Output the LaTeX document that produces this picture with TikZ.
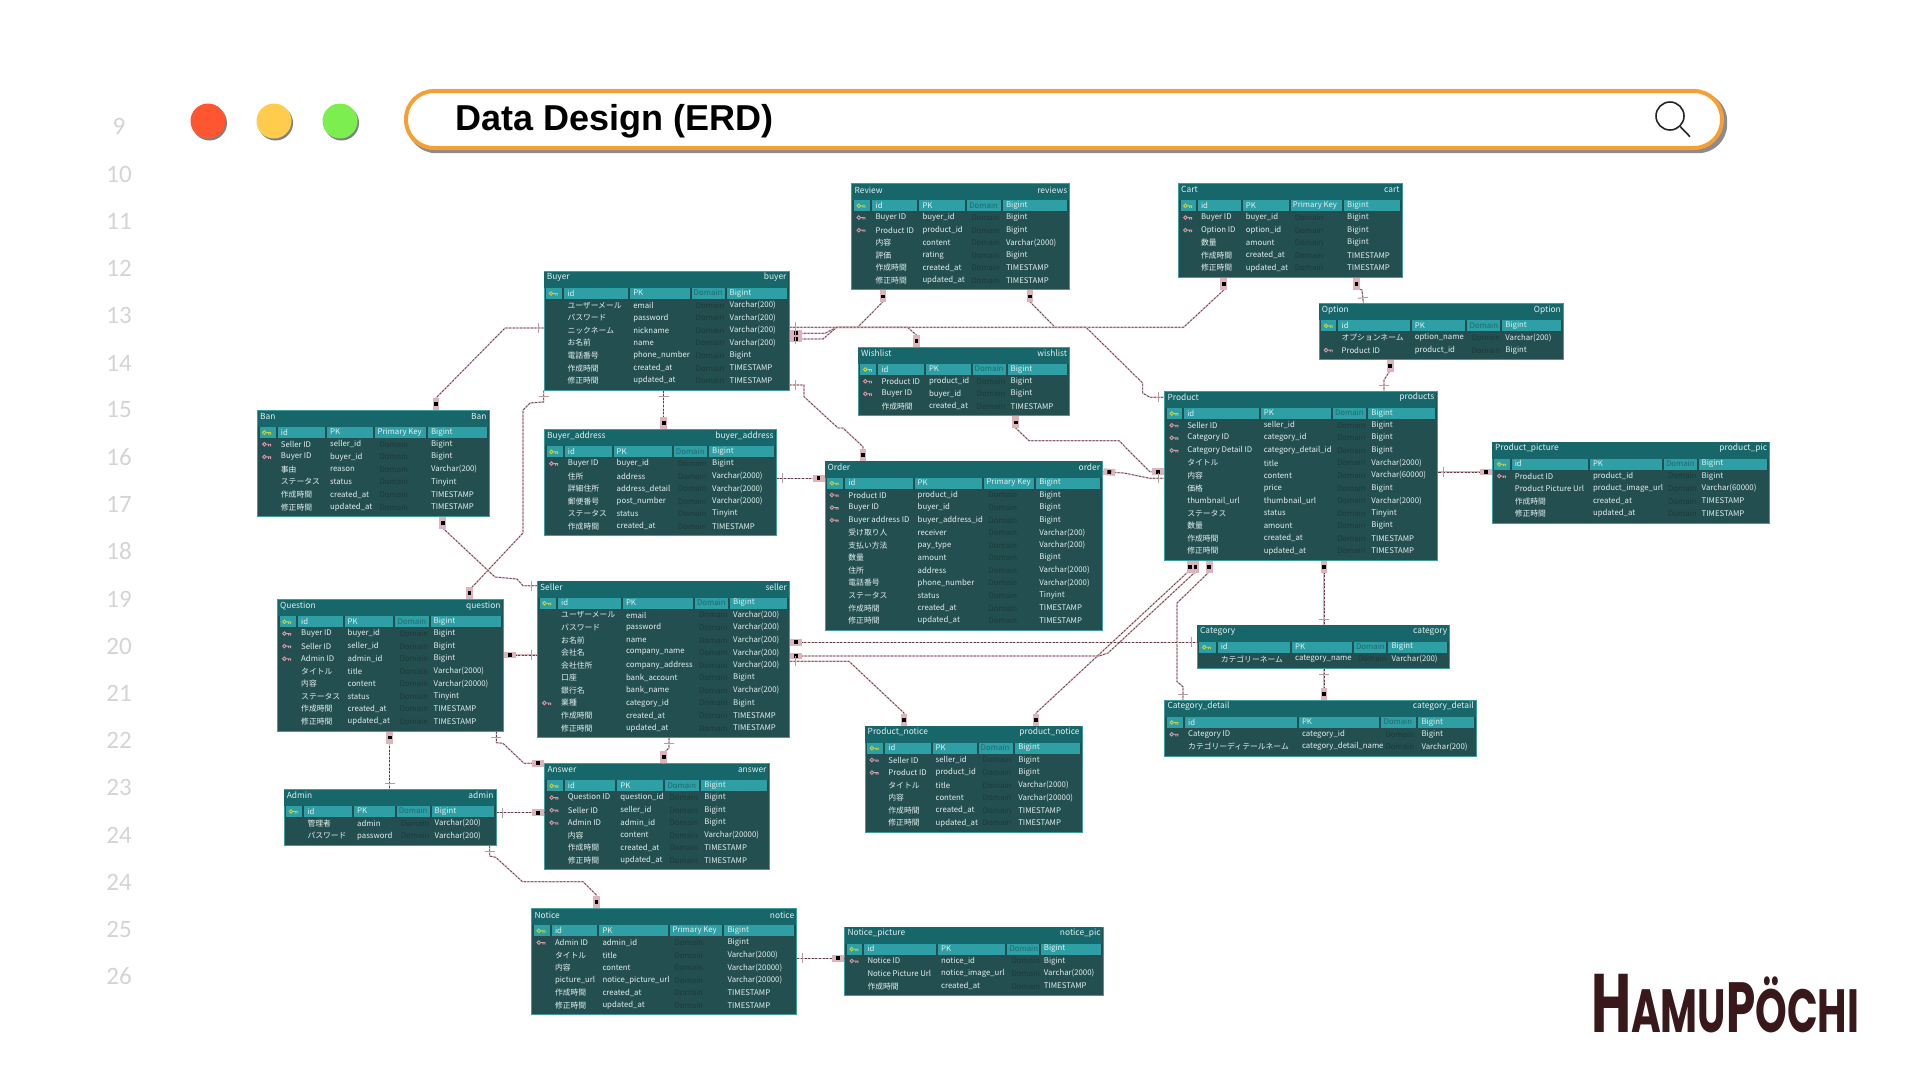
\documentclass[tikz,border=0pt]{standalone}
\usepackage{fontspec}
\setmainfont{Noto Sans CJK JP}
\newfontfamily\titlefont{Liberation Sans}
\newfontfamily\numfont{Carlito}
\newfontfamily\logofont{Poppins}
\usetikzlibrary{decorations.markings}

\definecolor{erdbody}{HTML}{244F50}
\definecolor{erdtop}{HTML}{176669}
\definecolor{erdcell}{HTML}{2EA0A5}
\definecolor{erdedge}{HTML}{3F9C9C}
\definecolor{erdtext}{HTML}{E4F0F0}
\definecolor{erddom}{HTML}{1B3A3A}
\definecolor{erdhdom}{HTML}{1E6A6E}
\definecolor{erdpk}{HTML}{C6D23F}
\definecolor{erdfk}{HTML}{D89AA6}
\definecolor{relpink}{HTML}{DDB4BC}
\definecolor{reldark}{HTML}{5A4045}
\definecolor{barorange}{HTML}{F59F35}
\definecolor{logobrown}{HTML}{38181A}

\tikzset{
  erdbox/.style={draw=erdedge, line width=1pt, fill=erdbody, inner sep=0pt, anchor=north west},
  erdhead/.style={text=erdtext, inner sep=0pt, font=\fontsize{8.4}{9}\selectfont},
  erdrow/.style={text=erdtext, inner sep=0pt, anchor=west, font=\fontsize{7.8}{8}\selectfont},
  keyicon/.pic={
    \draw[#1, line width=.9pt] (-2.6,0) circle (1.8) (-.8,0) -- (4,0) (1.6,0) -- (1.6,2) (3.6,0) -- (3.6,2);
  },
  rel/.style={draw=relpink, line width=1.4pt, postaction={draw=reldark, line width=.7pt, dash pattern=on 2pt off 1.6pt}},
  onestart/.style={postaction={decorate, decoration={markings, mark=at position 5.5pt with {\draw[relpink!85!black, line width=1pt, solid] (0,-5pt) -- (0,5pt);}}}},
  oneend/.style={postaction={decorate, decoration={markings, mark=at position -5.5pt with {\draw[relpink!85!black, line width=1pt, solid] (0,-5pt) -- (0,5pt);}}}},
  manystart/.style={postaction={decorate, decoration={markings, mark=at position 6pt with {\fill[relpink] (-6pt,-3.4pt) rectangle (6pt,3.4pt); \fill[black] (-1.9pt,-1.9pt) rectangle (1.9pt,1.9pt);}}}},
  manyend/.style={postaction={decorate, decoration={markings, mark=at position -6pt with {\fill[relpink] (-6pt,-3.4pt) rectangle (6pt,3.4pt); \fill[black] (-1.9pt,-1.9pt) rectangle (1.9pt,1.9pt);}}}},
  lineno/.style={text=black!17, font=\numfont\fontsize{25}{26}\selectfont},
}

\newcommand{\dm}{\textcolor{erdhdom}{Domain}}
\def\tabgeom#1/#2/#3/#4/#5/#6/#7/#8\relax{\def\tabx{#1}\def\taby{#2}\def\tabw{#3}\def\tabn{#4}\def\cola{#5}\def\colb{#6}\def\colc{#7}\def\cold{#8}}
% name, x/y/width/rows/four column offsets, title, table name, key header, rows
\newcommand{\erdtable}[6]{
  \tabgeom#2\relax
  \pgfmathsetmacro\tabh{30.7+(\tabn-1)*12.57}
  \node[erdbox, minimum width=\tabw pt, minimum height=\tabh pt] (#1) at (\tabx,\taby) {};
  \fill[erdtop] ({\tabx+.5},{\taby+.5}) rectangle ({\tabx+\tabw-.5},{\taby+17});
  \node[erdhead, anchor=west] (#1-title) at ({\tabx+3},{\taby+6.5}) {#3};
  \node[erdhead, anchor=east] (#1-name) at ({\tabx+\tabw-2},{\taby+6.5}) {#4};
  \fill[erdcell] ({\tabx+2.5},{\taby+17}) rectangle ({\tabx+\cola-2},{\taby+28});
  \fill[erdcell] ({\tabx+\cola},{\taby+17}) rectangle ({\tabx+\colb-2},{\taby+28});
  \fill[erdcell] ({\tabx+\colb},{\taby+17}) rectangle ({\tabx+\colc-2},{\taby+28});
  \fill[erdcell] ({\tabx+\colc},{\taby+17}) rectangle ({\tabx+\cold-2},{\taby+28});
  \fill[erdcell] ({\tabx+\cold},{\taby+17}) rectangle ({\tabx+\tabw-2},{\taby+28});
  \pic at ({\tabx+10},{\taby+22.5}) {keyicon=erdpk};
  \node[erdrow] (#1-a0) at ({\tabx+\cola+3},{\taby+22}) {id};
  \node[erdrow] (#1-b0) at ({\tabx+\colb+3},{\taby+22}) {PK};
  \node[erdrow] (#1-c0) at ({\tabx+\colc+2},{\taby+22}) {#5};
  \node[erdrow] (#1-d0) at ({\tabx+\cold+3},{\taby+22}) {Bigint};
  \foreach \kk/\lname/\pname/\dtype [count=\i] in {#6}{
    \pgfmathsetmacro\rowy{\taby+21.7+\i*12.57}
    \if f\kk \pic at ({\tabx+10},\rowy) {keyicon=erdfk}; \fi
    \node[erdrow] (#1-a\i) at ({\tabx+\cola+3},\rowy) {\lname};
    \node[erdrow] (#1-b\i) at ({\tabx+\colb+3},\rowy) {\pname};
    \node[erdrow, text=erddom] (#1-c\i) at ({\tabx+\colc+4},\rowy) {Domain};
    \node[erdrow] (#1-d\i) at ({\tabx+\cold+3},\rowy) {\dtype};
  }
}

\begin{document}
\begin{tikzpicture}[x=1pt,y=-1pt]
  \useasboundingbox (0,0) rectangle (1920,1080);

  % line numbers
  \foreach \num/\ypos [count=\k] in {9/126,10/174,11/221,12/268,13/315,14/363,15/410,16/457,17/504,18/551,19/599,20/646,21/693,22/740,23/787,24/835,24/882,25/929,26/976}{
    \node[lineno] (no\k) at (119,\ypos) {\num};
  }

  % window buttons
  \fill[black!50] (209.5,123) circle (17.5) (275.5,123) circle (17.5) (341.5,123) circle (17.5);
  \node[circle, fill={rgb,255:red,255;green,85;blue,48}, minimum size=35pt, inner sep=0pt] (btnred) at (208,121) {};
  \node[circle, fill={rgb,255:red,255;green,204;blue,77}, minimum size=35pt, inner sep=0pt] (btnyellow) at (274,121) {};
  \node[circle, fill={rgb,255:red,125;green,238;blue,80}, minimum size=35pt, inner sep=0pt] (btngreen) at (340,121) {};

  % search bar
  \node[fill=black!45, rounded corners=29pt, minimum width=1320pt, minimum height=61pt, inner sep=0pt, anchor=north west] (barshadow) at (407,92) {};
  \node[draw=barorange, fill=white, line width=4pt, rounded corners=28pt, minimum width=1316pt, minimum height=57pt, inner sep=0pt, anchor=north west] (bar) at (404,89) {};
  \node[anchor=west, inner sep=0pt, font=\titlefont\bfseries\fontsize{36}{38}\selectfont] (bartitle) at (455,121.5) {Data Design (ERD)};
  \node[circle, draw=black!85, line width=1.6pt, minimum size=28pt, inner sep=0pt] (lens) at (1670,116) {};
  \coordinate (handle) at (1690,136.7);
  \draw[black!85, line width=1.6pt] (lens) -- (handle);

  \erdtable{Review}{851.4/183.3/218/7/21/67.9/115.7/151.4}{Review}{reviews}{\dm}{
    f/Buyer ID/buyer\_id/Bigint, f/Product ID/product\_id/Bigint, n/内容/content/Varchar(2000),
    n/評価/rating/Bigint, n/作成時間/created\_at/TIMESTAMP, n/修正時間/updated\_at/TIMESTAMP}
  \erdtable{Cart}{1178/183.3/223.7/6/19.8/64.7/112.6/166}{Cart}{cart}{Primary Key}{
    f/Buyer ID/buyer\_id/Bigint, f/Option ID/option\_id/Bigint, n/数量/amount/Bigint,
    n/作成時間/created\_at/TIMESTAMP, n/修正時間/updated\_at/TIMESTAMP}
  \erdtable{Option}{1318.6/303.3/244.4/3/19.8/93/148.7/183.6}{Option}{Option}{\dm}{
    n/オプションネーム/option\_name/Varchar(200), f/Product ID/product\_id/Bigint}
  \erdtable{Buyer}{543.6/271/245/8/20.7/86.5/147.9/182.9}{Buyer}{buyer}{\dm}{
    n/ユーザーメール/email/Varchar(200), n/パスワード/password/Varchar(200), n/ニックネーム/nickname/Varchar(200),
    n/お名前/name/Varchar(200), n/電話番号/phone\_number/Bigint, n/作成時間/created\_at/TIMESTAMP, n/修正時間/updated\_at/TIMESTAMP}
  \erdtable{Wishlist}{857.9/347/211.4/4/20.4/67.9/114.6/149.6}{Wishlist}{wishlist}{\dm}{
    f/Product ID/product\_id/Bigint, f/Buyer ID/buyer\_id/Bigint, n/作成時間/created\_at/TIMESTAMP}
  \erdtable{Ban}{257/410/231.6/7/20.7/69.9/118.4/170.9}{Ban}{Ban}{Primary Key}{
    f/Seller ID/seller\_id/Bigint, f/Buyer ID/buyer\_id/Bigint, n/事由/reason/Varchar(200), n/ステータス/status/Tinyint,
    n/作成時間/created\_at/TIMESTAMP, n/修正時間/updated\_at/TIMESTAMP}
  \erdtable{Buyer_address}{544/429.3/231.7/7/20.7/69.5/129.7/165}{Buyer\_address}{buyer\_address}{\dm}{
    f/Buyer ID/buyer\_id/Bigint, n/住所/address/Varchar(2000), n/詳細住所/address\_detail/Varchar(2000),
    n/郵便番号/post\_number/Varchar(2000), n/ステータス/status/Tinyint, n/作成時間/created\_at/TIMESTAMP}
  \erdtable{Order}{824.5/460.7/277.8/12/20.7/90/159.8/211.6}{Order}{order}{Primary Key}{
    f/Product ID/product\_id/Bigint, f/Buyer ID/buyer\_id/Bigint, f/Buyer address ID/buyer\_address\_id/Bigint,
    n/受け取り人/receiver/Varchar(200), n/支払い方法/pay\_type/Varchar(200), n/数量/amount/Bigint,
    n/住所/address/Varchar(2000), n/電話番号/phone\_number/Varchar(2000), n/ステータス/status/Tinyint,
    n/作成時間/created\_at/TIMESTAMP, n/修正時間/updated\_at/TIMESTAMP}
  \erdtable{Product}{1164.3/391/272.3/12/19.8/96.3/168.5/203.9}{Product}{products}{\dm}{
    f/Seller ID/seller\_id/Bigint, f/Category ID/category\_id/Bigint, f/Category Detail ID/category\_detail\_id/Bigint,
    n/タイトル/title/Varchar(2000), n/内容/content/Varchar(60000), n/価格/price/Bigint,
    n/thumbnail\_url/thumbnail\_url/Varchar(2000), n/ステータス/status/Tinyint, n/数量/amount/Bigint,
    n/作成時間/created\_at/TIMESTAMP, n/修正時間/updated\_at/TIMESTAMP}
  \erdtable{Product_picture}{1491.8/441.7/277.5/5/19.8/98/172/206.7}{Product\_picture}{product\_pic}{\dm}{
    f/Product ID/product\_id/Bigint, n/Product Picture Url/product\_image\_url/Varchar(60000),
    n/作成時間/created\_at/TIMESTAMP, n/修正時間/updated\_at/TIMESTAMP}
  \erdtable{Question}{277/599.3/225.7/9/21/67.5/118.4/153.5}{Question}{question}{\dm}{
    f/Buyer ID/buyer\_id/Bigint, f/Seller ID/seller\_id/Bigint, f/Admin ID/admin\_id/Bigint, n/タイトル/title/Varchar(2000),
    n/内容/content/Varchar(20000), n/ステータス/status/Tinyint, n/作成時間/created\_at/TIMESTAMP, n/修正時間/updated\_at/TIMESTAMP}
  \erdtable{Seller}{537/580.7/252/11/21/85.8/157.8/193}{Seller}{seller}{\dm}{
    n/ユーザーメール/email/Varchar(200), n/パスワード/password/Varchar(200), n/お名前/name/Varchar(200),
    n/会社名/company\_name/Varchar(200), n/会社住所/company\_address/Varchar(200), n/口座/bank\_account/Bigint,
    n/銀行名/bank\_name/Varchar(200), f/業種/category\_id/Bigint, n/作成時間/created\_at/TIMESTAMP, n/修正時間/updated\_at/TIMESTAMP}
  \erdtable{Category}{1196.9/624.7/252.5/2/20.7/95/157/191.5}{Category}{category}{\dm}{
    n/カテゴリーネーム/category\_name/Varchar(200)}
  \erdtable{Category_detail}{1164.3/700/311.7/3/20.7/134.5/217/254}{Category\_detail}{category\_detail}{\dm}{
    f/Category ID/category\_id/Bigint, n/カテゴリーディテールネーム/category\_detail\_name/Varchar(200)}
  \erdtable{Product_notice}{864.5/725.7/217.2/7/20.7/68/114/150.6}{Product\_notice}{product\_notice}{\dm}{
    f/Seller ID/seller\_id/Bigint, f/Product ID/product\_id/Bigint, n/タイトル/title/Varchar(2000),
    n/内容/content/Varchar(20000), n/作成時間/created\_at/TIMESTAMP, n/修正時間/updated\_at/TIMESTAMP}
  \erdtable{Admin}{283.6/789/212.1/3/20.7/70.4/113/147.9}{Admin}{admin}{\dm}{
    n/管理者/admin/Varchar(200), n/パスワード/password/Varchar(200)}
  \erdtable{Answer}{544.3/763.3/224.3/7/20.4/72.9/121/156.8}{Answer}{answer}{\dm}{
    f/Question ID/question\_id/Bigint, f/Seller ID/seller\_id/Bigint, f/Admin ID/admin\_id/Bigint,
    n/内容/content/Varchar(20000), n/作成時間/created\_at/TIMESTAMP, n/修正時間/updated\_at/TIMESTAMP}
  \erdtable{Notice}{531.4/908.3/265/7/20.4/67.9/139/192.9}{Notice}{notice}{Primary Key}{
    f/Admin ID/admin\_id/Bigint, n/タイトル/title/Varchar(2000), n/内容/content/Varchar(20000),
    n/picture\_url/notice\_picture\_url/Varchar(20000), n/作成時間/created\_at/TIMESTAMP, n/修正時間/updated\_at/TIMESTAMP}
  \erdtable{Notice_picture}{844.3/926.7/258.6/4/20/93.6/163/196.4}{Notice\_picture}{notice\_pic}{\dm}{
    f/Notice ID/notice\_id/Bigint, n/Notice Picture Url/notice\_image\_url/Varchar(2000), n/作成時間/created\_at/TIMESTAMP}

  % relations
  \draw[rel,onestart,manyend] (Buyer.west |- 0,328) -- (505,328) -- (436,398) -- (Ban.north -| 436,0);
  \draw[rel,onestart,manyend] (Buyer.south -| 543.6,0) -- (543.6,402) -- (530,403) -- (523,410) -- (523,533) -- (469.4,590) -- (Question.north -| 469.4,0);
  \draw[rel,manystart,oneend] (Ban.south -| 442.7,0) -- (442.7,528) -- (495,577) -- (517,579) -- (523,585.7) -- (Seller.west |- 0,585.7);
  \draw[rel,onestart,manyend] (Buyer.south -| 663.6,0) -- (Buyer_address.north -| 663.6,0);
  \draw[rel,onestart,manyend] (Buyer_address.east |- 0,478.3) -- (Order.west |- 0,478.3);
  \draw[rel,onestart,manyend] (Buyer.east |- 0,385) -- (804,385) -- (804,396.7) -- (838,428) -- (843,428) -- (863,446.7) -- (Order.north -| 863,0);
  \draw[rel,onestart,manyend] (Buyer.east |- 0,327.3) -- (1183.6,327.3) -- (1223.8,290) -- (Cart.south -| 1223.8,0);
  \draw[rel,manystart,onestart,manyend] (Buyer.east |- 0,333.3) -- (825,333.3) -- (836.7,327.3) -- (857.5,327.3) -- (883,301.7) -- (Review.south -| 883,0);
  \draw[rel,manystart,onestart,manyend] (Buyer.east |- 0,339) -- (823,339) -- (836.7,327.3) -- (907.5,327.3) -- (916.4,335) -- (Wishlist.north -| 916.4,0);
  \draw[rel,manystart,oneend] (Review.south -| 1030,0) -- (1030,301.7) -- (1055,327.3) -- (1086,327.3) -- (1142.6,383) -- (1142.6,393) -- (1150,397.3) -- (Product.west |- 0,397.3);
  \draw[rel,manystart,manyend] (Wishlist.south -| 1015.7,0) -- (1015.7,428) -- (1029,440.7) -- (1119,440.7) -- (1149.7,471.7) -- (Product.west |- 0,471.7);
  \draw[rel,manystart,oneend] (Order.east |- 0,471.7) -- (1124,473) -- (1149.7,478.3) -- (Product.west |- 0,478.3);
  \draw[rel,oneend,manystart] (Product_picture.west |- 0,472) -- (Product.east |- 0,472);
  \draw[rel,manystart,oneend] (Cart.south -| 1356.4,0) -- (1356.4,288) -- (1362,290) -- (Option.north -| 1363.4,0);
  \draw[rel,manystart,oneend] (Option.south -| 1390.3,0) -- (1390.3,370) -- (1384,380) -- (Product.north -| 1384,0);
  \draw[rel,manystart,oneend] (Product.south -| 1324,0) -- (Category.north -| 1324,0);
  \draw[rel,manystart,oneend] (Product.south -| 1209.3,0) -- (1209.3,571.7) -- (1177,603) -- (1177,681.7) -- (1183,686.7) -- (Category_detail.north -| 1183,0);
  \draw[rel,manystart,manyend] (Product.south -| 1190,0) -- (1190,570) -- (1036,713) -- (Product_notice.north -| 1036,0);
  \draw[rel,manystart,manyend] (Product.south -| 1195.5,0) -- (1195.5,571.7) -- (1108,653) -- (1099,656) -- (Seller.east |- 0,656);
  \draw[rel,manystart,oneend] (Seller.east |- 0,642.3) -- (Category.west |- 0,642.3);
  \draw[rel,onestart,manyend] (Seller.east |- 0,661.3) -- (849,661.3) -- (904,713) -- (Product_notice.north -| 904,0);
  \draw[rel,onestart,manyend] (Category.south -| 1324,0) -- (Category_detail.north -| 1324,0);
  \draw[rel,manystart,oneend] (Question.east |- 0,655) -- (Seller.west |- 0,655);
  \draw[rel,manystart,oneend] (Question.south -| 389.6,0) -- (Admin.north -| 389.6,0);
  \draw[rel,onestart,manyend] (Question.south -| 496.4,0) -- (496.4,742.7) -- (503,743.3) -- (524,763.3) -- (Answer.north west);
  \draw[rel,onestart,manyend] (Seller.south -| 669,0) -- (669,748) -- (663.6,753) -- (Answer.north -| 663.6,0);
  \draw[rel,onestart,manyend] (Admin.east |- 0,812.7) -- (Answer.west |- 0,812.7);
  \draw[rel,onestart,manyend] (Admin.south -| 489.6,0) -- (489.6,856) -- (495.7,857.3) -- (522.5,881.7) -- (583,881.7) -- (596.4,895) -- (Notice.north -| 596.4,0);
  \draw[rel,onestart,manyend] (Notice.east |- 0,958.3) -- (Notice_picture.west |- 0,958.3);

  % logo
  \node[anchor=base west, inner sep=0pt, text=logobrown, font=\logofont\bfseries] (logo) at (1591,1032) {\scalebox{.66}[1]{\fontsize{83}{83}\selectfont H\fontsize{61}{61}\selectfont AMU\fontsize{71}{71}\selectfont P\fontsize{61}{61}\selectfont ÖCHI}};
\end{tikzpicture}
\end{document}
